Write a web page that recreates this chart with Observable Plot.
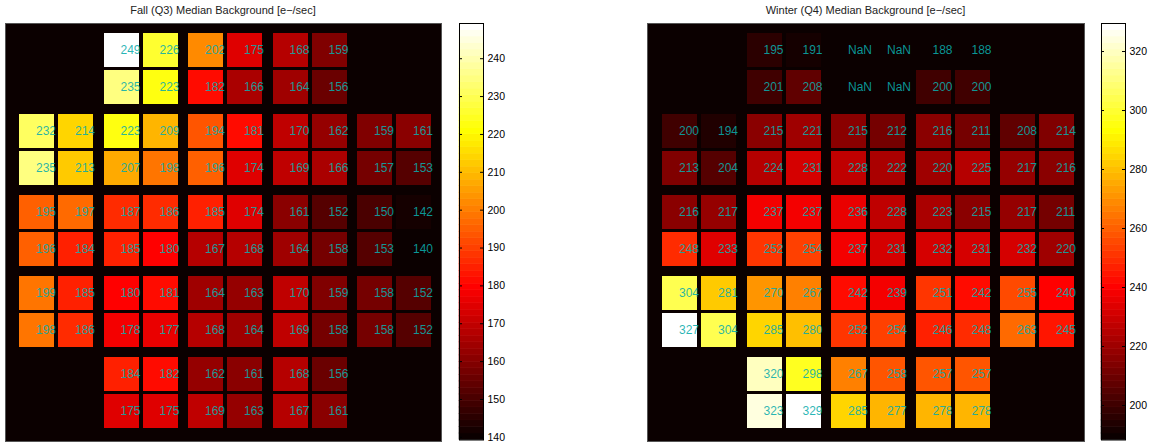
<!DOCTYPE html>
<html>
<head>
<meta charset="utf-8">
<script src="https://cdn.jsdelivr.net/npm/d3@7"></script>
<script src="https://cdn.jsdelivr.net/npm/@observablehq/plot@0.6"></script>
<style>
  html, body { margin: 0; padding: 0; background: #fff; }
  #root { position: relative; width: 1156px; height: 446px; font-family: "Liberation Sans", Arial, Helvetica, sans-serif; }
  .title { position: absolute; top: 3px; font-size: 11px; line-height: 14px; text-align: center; color: #222; white-space: nowrap; }
  .abs { position: absolute; }
</style>
</head>
<body>
<div id="root"></div>
<script>
// ---------- data ----------
const fallTitle = "Fall (Q3) Median Background [e\u2212/sec]";
const winterTitle = "Winter (Q4) Median Background [e\u2212/sec]";

// rows from top to bottom, 10 channels per row; null = no channel
const fallRows = [
  [null, null, 249, 226, 202, 175, 168, 159, null, null],
  [null, null, 235, 223, 182, 166, 164, 156, null, null],
  [232, 214, 223, 209, 194, 181, 170, 162, 159, 161],
  [235, 213, 207, 198, 196, 174, 169, 166, 157, 153],
  [195, 197, 187, 186, 185, 174, 161, 152, 150, 142],
  [196, 184, 185, 180, 167, 168, 164, 158, 153, 140],
  [199, 185, 180, 181, 164, 163, 170, 159, 158, 152],
  [198, 186, 178, 177, 168, 164, 169, 158, 158, 152],
  [null, null, 184, 182, 162, 161, 168, 156, null, null],
  [null, null, 175, 175, 169, 163, 167, 161, null, null]
];
const winterRows = [
  [null, null, 195, 191, NaN, NaN, 188, 188, null, null],
  [null, null, 201, 208, NaN, NaN, 200, 200, null, null],
  [200, 194, 215, 221, 215, 212, 216, 211, 208, 214],
  [213, 204, 224, 231, 228, 222, 220, 225, 217, 216],
  [216, 217, 237, 237, 236, 228, 223, 215, 217, 211],
  [248, 233, 252, 254, 237, 231, 232, 231, 232, 220],
  [304, 281, 270, 267, 242, 239, 251, 242, 255, 240],
  [327.4, 304, 285, 280, 252, 254, 246, 248, 263, 245],
  [null, null, 320, 298, 267, 258, 257, 257, null, null],
  [null, null, 323, 329, 285, 277, 278, 278, null, null]
];
const fallRange = [139.3, 249.3];
const winterRange = [188.3, 329.5];
const fallTicks = [140, 150, 160, 170, 180, 190, 200, 210, 220, 230, 240];
const winterTicks = [200, 220, 240, 260, 280, 300, 320];

// ---------- MATLAB "hot" colormap, 64 levels ----------
const M = 64;
function hot(t) {
  const i = Math.max(0, Math.min(M - 1, Math.floor(t * M))) + 1;
  const r = Math.min(1, i / 24);
  const g = Math.max(0, Math.min(1, (i - 24) / 24));
  const b = Math.max(0, Math.min(1, (i - 48) / 16));
  return `rgb(${Math.round(r * 255)},${Math.round(g * 255)},${Math.round(b * 255)})`;
}
const bgColor = hot(0);
const labelColor = "rgb(10,172,172)";
const FONT = "'Liberation Sans', Arial, Helvetica, sans-serif";

// ---------- focal-plane geometry (in channel units) ----------
const pitchX = 39, pitchY = 37;
const gapX = 6.5 / pitchX, gapY = 7 / pitchY;
const cellW = 35 / pitchX, cellH = 34 / pitchY;
const colPos = c => c + Math.floor(c / 2) * gapX;
const rowPos = r => r + Math.floor(r / 2) * gapY;

function cellsOf(rows) {
  const out = [];
  rows.forEach((row, r) => row.forEach((v, c) => { if (v !== null) out.push({ r, c, v }); }));
  return out;
}

function heatmap(rows, range, width, leftPad) {
  const cells = cellsOf(rows);
  return Plot.plot({
    width, height: 418,
    marginTop: 0, marginBottom: 0, marginLeft: 0, marginRight: 0,
    style: { background: "transparent", fontFamily: FONT, overflow: "visible" },
    x: { domain: [-leftPad / pitchX, (width - leftPad) / pitchX], axis: null },
    y: { domain: [-10 / pitchY, 408 / pitchY], reverse: true, axis: null },
    color: { type: "linear", domain: range, interpolate: t => hot(t), clamp: true },
    marks: [
      Plot.frame({ fill: bgColor, stroke: "#555", strokeWidth: 1 }),
      Plot.rect(cells.filter(d => !Number.isNaN(d.v)), {
        x1: d => colPos(d.c), x2: d => colPos(d.c) + cellW,
        y1: d => rowPos(d.r), y2: d => rowPos(d.r) + cellH,
        fill: "v", shapeRendering: "crispEdges"
      }),
      Plot.text(cells, {
        x: d => colPos(d.c) + cellW / 2, y: d => rowPos(d.r) + cellH / 2,
        text: d => Number.isNaN(d.v) ? "NaN" : String(Math.round(d.v)),
        textAnchor: "start", dx: -1, fill: labelColor, fillOpacity: 0.88, fontSize: 12
      })
    ]
  });
}

function colorbar(range, ticks) {
  const bands = d3.range(M).map(i => {
    const lo = range[0] + (range[1] - range[0]) * i / M;
    const hi = range[0] + (range[1] - range[0]) * (i + 1) / M;
    return { lo, hi, mid: (lo + hi) / 2 };
  });
  return Plot.plot({
    width: 65, height: 446,
    marginTop: 23, marginBottom: 6.5, marginLeft: 1, marginRight: 40,
    style: { background: "transparent", fontFamily: FONT, overflow: "visible" },
    x: { domain: [0, 1], axis: null },
    y: { domain: range, axis: null },
    color: { type: "linear", domain: range, interpolate: t => hot(t), clamp: true },
    marks: [
      Plot.rect(bands, { x1: 0, x2: 1, y1: "lo", y2: "hi", fill: "mid", stroke: "mid", strokeWidth: 0.6 }),
      Plot.ruleY(ticks, { x1: 0, x2: 3 / 24, stroke: "#000" }),
      Plot.ruleY(ticks, { x1: 21 / 24, x2: 1, stroke: "#000" }),
      Plot.frame({ stroke: "#000" }),
      Plot.axisY(ticks, { anchor: "right", tickSize: 0, tickPadding: 4, fontSize: 10.5, label: null, tickFormat: d => String(d) })
    ]
  });
}

const root = document.getElementById("root");
function place(el, left, top) { el.classList.add("abs"); el.style.left = left + "px"; el.style.top = top + "px"; root.appendChild(el); }
function title(text, left, width) {
  const d = document.createElement("div");
  d.className = "title"; d.textContent = text;
  d.style.left = left + "px"; d.style.width = width + "px";
  root.appendChild(d);
}

title(fallTitle, 5, 436);
title(winterTitle, 647, 437);
place(heatmap(fallRows, fallRange, 436, 14), 5, 23);
place(heatmap(winterRows, winterRange, 437, 15), 647, 23);
place(colorbar(fallRange, fallTicks), 458, 0);
place(colorbar(winterRange, winterTicks), 1100, 0);
</script>
</body>
</html>
